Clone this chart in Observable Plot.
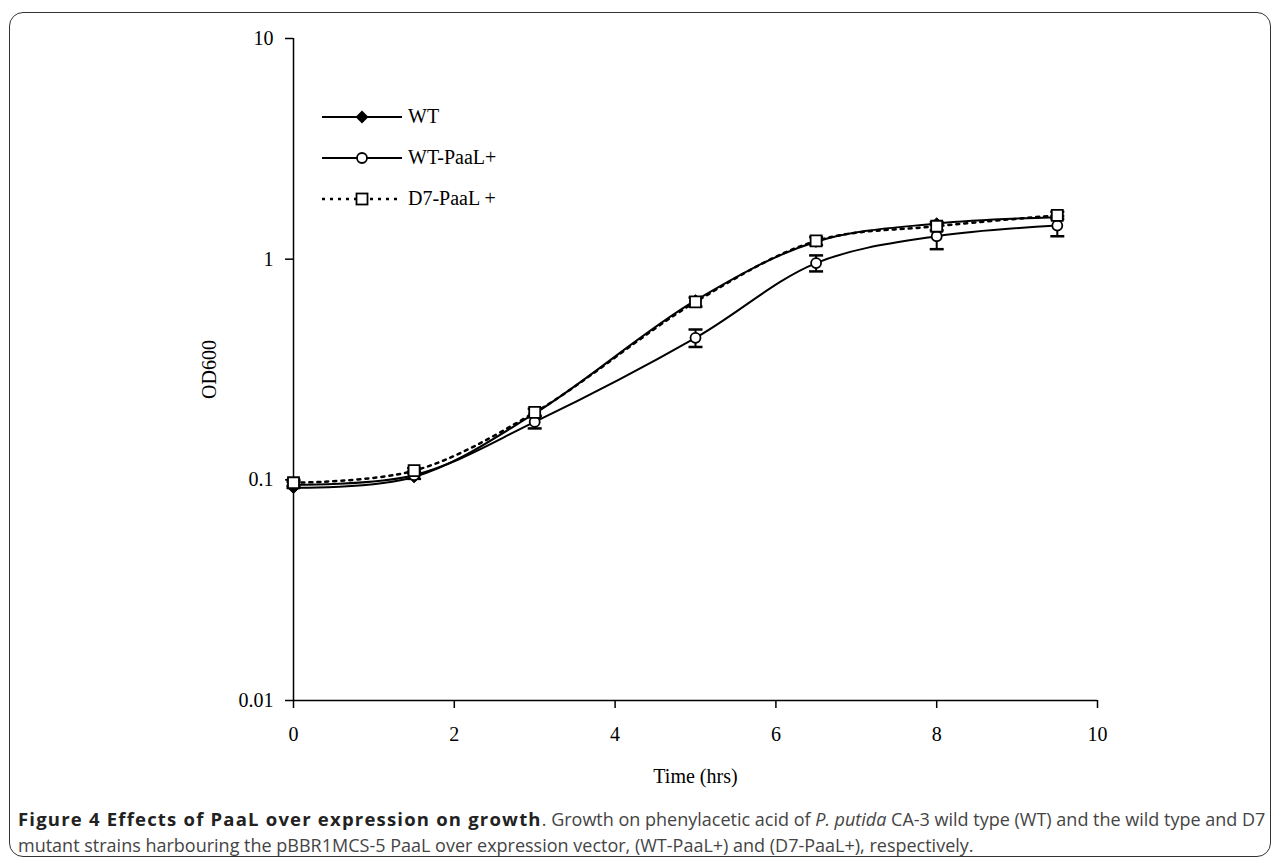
<!DOCTYPE html>
<html>
<head>
<meta charset="utf-8">
<script src="https://cdn.jsdelivr.net/npm/d3@7"></script>
<script src="https://cdn.jsdelivr.net/npm/@observablehq/plot@0.6"></script>
<style>
  html, body { margin: 0; padding: 0; background: #fff; }
  #page { position: relative; width: 1282px; height: 863px; overflow: hidden; }
  #frame { position: absolute; left: 9px; top: 12px; width: 1262px; height: 845px; border: 1.5px solid #333; border-radius: 14px; box-sizing: border-box; }
  #chart { position: absolute; left: 0; top: 0; }
  #legend { position: absolute; left: 318px; top: 96px; font-family: "Liberation Serif", serif; font-size: 20px; color: #000; }
  .row { display: flex; align-items: center; height: 41px; }
  .row span { margin-left: 4px; }
  #caption { position: absolute; left: 18px; top: 806px; width: 1262px; white-space: nowrap; font-family: "Open Sans", sans-serif; font-size: 18px; line-height: 26px; color: #444; letter-spacing: 0px; }
  #caption b { color: #222; font-size: 18.5px; letter-spacing: 1.2px; }
</style>
</head>
<body>
<div id="page">
  <div id="frame"></div>
  <div id="chart"></div>
  <div id="legend"></div>
  <div id="caption"><b>Figure 4 Effects of PaaL over expression on growth</b>. Growth on phenylacetic acid of <i>P. putida</i> CA-3 wild type (WT) and the wild type and D7<br>mutant strains harbouring the pBBR1MCS-5 PaaL over expression vector, (WT-PaaL+) and (D7-PaaL+), respectively.</div>
</div>
<script>
// ---- data ----
const time = [0, 1.5, 3, 5, 6.5, 8, 9.5];
const wt = [0.092, 0.103, 0.200, 0.65, 1.20, 1.45, 1.55];
const wtPaal = [0.095, 0.105, 0.183, 0.44, 0.96, 1.27, 1.42];
const wtPaalErr = [0.003, 0.004, 0.012, 0.04, 0.08, 0.16, 0.15];
const d7Paal = [0.097, 0.110, 0.202, 0.64, 1.21, 1.41, 1.58];
const d7PaalErr = [0.003, 0.003, 0.008, 0.03, 0.05, 0.06, 0.06];
const seriesNames = ["WT", "WT-PaaL+", "D7-PaaL +"];
const xTicks = [0, 2, 4, 6, 8, 10];
const yTicks = [0.01, 0.1, 1, 10];
const yTickLabels = ["0.01", "0.1", "1", "10"];
const xLabel = "Time (hrs)";
const yLabel = "OD600";

const rows = (vals, err, name) => time.map((t, i) => ({
  t, v: vals[i], lo: err ? vals[i] - err[i] : vals[i], hi: err ? vals[i] + err[i] : vals[i], name
}));
const sWT = rows(wt, null, seriesNames[0]);
const sWP = rows(wtPaal, wtPaalErr, seriesNames[1]);
const sD7 = rows(d7Paal, d7PaalErr, seriesNames[2]);

const capSymbol = {
  draw(context, size) {
    const w = Math.sqrt(size / Math.PI);
    context.moveTo(-w, 0);
    context.lineTo(w, 0);
  }
};

const font = "Liberation Serif, Times New Roman, serif";

const plot = Plot.plot({
  width: 1282,
  height: 800,
  marginLeft: 293,
  marginRight: 185,
  marginTop: 38,
  marginBottom: 100,
  style: { fontFamily: font, fontSize: "20px", color: "#000", background: "transparent" },
  x: { domain: [0, 10] },
  y: { type: "log", domain: [0.01, 10] },
  marks: [
    Plot.axisX({ ticks: xTicks, tickSize: 8, tickPadding: 18, strokeWidth: 1.5, label: xLabel, labelAnchor: "center", labelArrow: "none", labelOffset: 82, fontSize: 20 }),
    Plot.axisY({ ticks: yTicks, tickFormat: (d) => yTickLabels[yTicks.indexOf(d)], tickSize: 8, tickPadding: 12, strokeWidth: 1.5, label: yLabel, labelAnchor: "center", labelArrow: "none", labelOffset: 92, fontSize: 20 }),
    Plot.ruleX([0], { y1: 0.01, y2: 10, strokeWidth: 1.5 }),
    Plot.ruleY([0.01], { x1: 0, x2: 10, strokeWidth: 1.5 }),
    // lines
    Plot.line(sWT, { x: "t", y: "v", curve: "catmull-rom", stroke: "#000", strokeWidth: 2 }),
    Plot.line(sWP, { x: "t", y: "v", curve: "catmull-rom", stroke: "#000", strokeWidth: 2 }),
    Plot.line(sD7, { x: "t", y: "v", curve: "catmull-rom", stroke: "#000", strokeWidth: 2.5, strokeDasharray: "3,5" }),
    // error bars
    Plot.ruleX(sWP, { x: "t", y1: "lo", y2: "hi", stroke: "#000", strokeWidth: 2 }),
    Plot.dot(sWP, { x: "t", y: "lo", symbol: capSymbol, r: 7, stroke: "#000", strokeWidth: 2.5 }),
    Plot.dot(sWP, { x: "t", y: "hi", symbol: capSymbol, r: 7, stroke: "#000", strokeWidth: 2.5 }),
    Plot.ruleX(sD7, { x: "t", y1: "lo", y2: "hi", stroke: "#000", strokeWidth: 2 }),
    Plot.dot(sD7, { x: "t", y: "lo", symbol: capSymbol, r: 7, stroke: "#000", strokeWidth: 2.5 }),
    Plot.dot(sD7, { x: "t", y: "hi", symbol: capSymbol, r: 7, stroke: "#000", strokeWidth: 2.5 }),
    // markers
    Plot.dot(sWT, { x: "t", y: "v", symbol: "diamond2", r: 5.2, fill: "#000", stroke: "#000", strokeWidth: 1 }),
    Plot.dot(sWP, { x: "t", y: "v", symbol: "circle", r: 5, fill: "#fff", stroke: "#000", strokeWidth: 1.8 }),
    Plot.dot(sD7, { x: "t", y: "v", symbol: "square", r: 6.2, fill: "#fff", stroke: "#000", strokeWidth: 1.8 })
  ]
});
document.getElementById("chart").appendChild(plot);

// ---- legend ----
const legendDefs = [
  { name: seriesNames[0], dash: null, sym: "diamond" },
  { name: seriesNames[1], dash: null, sym: "circle" },
  { name: seriesNames[2], dash: "3,5", sym: "square" }
];
const legend = document.getElementById("legend");
for (const d of legendDefs) {
  const row = document.createElement("div");
  row.className = "row";
  const svg = d3.create("svg").attr("width", 86).attr("height", 20);
  svg.append("line").attr("x1", 4).attr("x2", 84).attr("y1", 10).attr("y2", 10)
    .attr("stroke", "#000").attr("stroke-width", d.dash ? 2.5 : 2).attr("stroke-dasharray", d.dash);
  if (d.sym === "diamond") {
    svg.append("path").attr("d", "M44,3.5L50.5,10L44,16.5L37.5,10Z").attr("fill", "#000");
  } else if (d.sym === "circle") {
    svg.append("circle").attr("cx", 44).attr("cy", 10).attr("r", 5).attr("fill", "#fff").attr("stroke", "#000").attr("stroke-width", 1.8);
  } else {
    svg.append("rect").attr("x", 38.5).attr("y", 4.5).attr("width", 11).attr("height", 11).attr("fill", "#fff").attr("stroke", "#000").attr("stroke-width", 1.8);
  }
  row.appendChild(svg.node());
  const span = document.createElement("span");
  span.textContent = d.name;
  row.appendChild(span);
  legend.appendChild(row);
}
</script>
</body>
</html>
